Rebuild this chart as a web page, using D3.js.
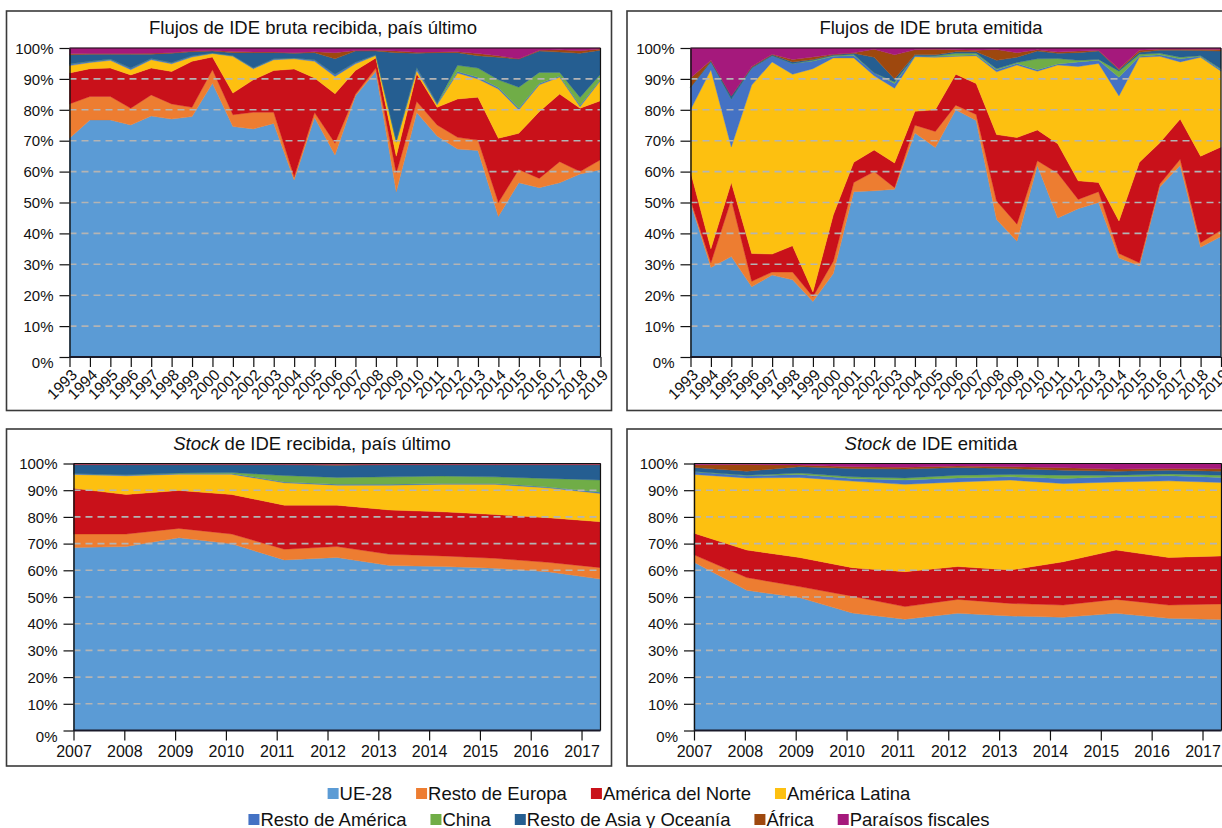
<!DOCTYPE html>
<html>
<head>
<meta charset="utf-8">
<script src="https://cdn.jsdelivr.net/npm/d3@7"></script>
<style>
  html, body { margin: 0; padding: 0; background: #fff; overflow: hidden; }
  svg { display: block; font-family: "Liberation Sans", Arial, Helvetica, sans-serif; }
</style>
</head>
<body>
<svg id="chart" width="1222" height="828"></svg>
<script>
// ---------------- DATA ----------------
const seriesNames = ["UE-28", "Resto de Europa", "América del Norte", "América Latina",
  "Resto de América", "China", "Resto de Asia y Oceanía", "África", "Paraísos fiscales"];
const seriesColors = ["#5b9bd5", "#ed7d31", "#c9111a", "#fdc010",
  "#4472c4", "#70ad47", "#255e91", "#9e480e", "#a5197c"];

const yearsFlows = [1993, 1994, 1995, 1996, 1997, 1998, 1999, 2000, 2001, 2002, 2003, 2004, 2005,
  2006, 2007, 2008, 2009, 2010, 2011, 2012, 2013, 2014, 2015, 2016, 2017, 2018, 2019];
const yearsStock = [2007, 2008, 2009, 2010, 2011, 2012, 2013, 2014, 2015, 2016, 2017];
const yTickValues = [0, 0.1, 0.2, 0.3, 0.4, 0.5, 0.6, 0.7, 0.8, 0.9, 1];

// Flujos de IDE bruta recibida, país último (% share)
const recFlowUE  = [70.8, 76.7, 76.7, 75.1, 78.0, 77.0, 77.8, 88.6, 74.6, 73.8, 75.6, 57.3, 77.5, 65.4, 84.5, 92.4, 53.5, 79.1, 71.5, 67.3, 66.8, 45.5, 56.4, 54.8, 56.4, 59.2, 60.0];
const recFlowRE  = [11.1, 7.6, 7.6, 5.4, 6.8, 4.9, 3.0, 4.4, 3.8, 5.4, 3.6, 1.0, 1.6, 3.8, 0.5, 1.1, 6.0, 3.6, 3.6, 3.8, 3.4, 4.5, 4.3, 3.0, 6.8, 0.8, 3.2];
const recFlowAN  = [10.0, 9.0, 9.2, 10.8, 8.7, 10.5, 14.9, 4.1, 7.0, 10.5, 13.5, 34.9, 11.2, 16.0, 7.7, 3.3, 5.5, 9.0, 5.7, 12.4, 13.9, 20.8, 11.7, 21.6, 21.9, 20.5, 18.9];
const recFlowAL  = [2.4, 2.0, 2.5, 1.7, 2.7, 2.5, 1.4, 1.1, 11.9, 3.6, 3.5, 3.3, 5.4, 5.6, 2.2, 0.8, 4.5, 1.0, 0.8, 8.4, 5.9, 15.9, 7.6, 8.7, 5.5, 0.5, 6.5];
const recFlowRA  = [0.6, 0.4, 0.4, 0.5, 0.4, 0.4, 0.4, 0.2, 0.3, 0.3, 0.3, 0.3, 0.5, 0.7, 0.5, 0.2, 0.5, 1.0, 0.5, 0.5, 0.5, 0.5, 0.5, 0.4, 0.3, 0.5, 0.3];
const recFlowCH  = [0, 0, 0, 0, 0, 0, 0, 0, 0, 0, 0, 0, 0, 0, 0, 0, 0, 0, 0, 2.0, 3.0, 2.5, 6.8, 3.6, 1.2, 2.5, 1.7];
const recFlowRAO = [2.9, 2.3, 1.6, 4.5, 1.4, 3.0, 1.3, 0.6, 0.9, 4.9, 2.0, 1.5, 2.3, 5.0, 3.6, 1.2, 28.5, 4.6, 16.4, 4.1, 4.0, 7.3, 9.1, 6.9, 6.6, 14.3, 7.7];
const recFlowAF  = [0.3, 0.2, 0.2, 0.2, 0.3, 0.2, 0.2, 0.2, 0.4, 0.2, 0.2, 0.2, 0.3, 2.0, 0.2, 0.3, 0.5, 0.3, 0.2, 0.3, 0.7, 0.5, 0.1, 0.3, 0.7, 0.8, 0.4];
const recFlowPF  = [1.9, 1.8, 1.8, 1.8, 1.7, 1.5, 1.0, 0.8, 1.1, 1.3, 1.3, 1.5, 1.2, 1.5, 0.8, 0.7, 1.0, 1.4, 1.3, 1.2, 1.8, 2.5, 3.5, 0.7, 0.6, 0.9, 0.3];

// Flujos de IDE bruta emitida (% share)
const emiFlowUE  = [50.0, 29.0, 32.5, 22.7, 26.5, 25.0, 18.0, 27.0, 53.5, 53.8, 54.3, 72.5, 67.8, 80.0, 76.5, 44.5, 37.5, 62.0, 45.0, 48.0, 50.0, 32.0, 29.5, 55.0, 62.0, 35.5, 39.0];
const emiFlowRE  = [0.8, 1.5, 18.5, 1.8, 1.0, 2.5, 1.5, 4.0, 3.0, 6.2, 0.5, 2.5, 5.2, 1.5, 2.0, 6.0, 5.5, 1.5, 14.5, 3.0, 3.5, 1.5, 1.0, 1.0, 2.0, 1.5, 2.0];
const emiFlowAN  = [9.2, 4.5, 5.5, 9.0, 5.8, 8.5, 1.5, 15.0, 6.5, 7.0, 8.0, 4.5, 7.0, 10.0, 10.0, 21.5, 28.0, 10.0, 9.5, 6.0, 3.0, 10.5, 32.5, 13.3, 13.0, 28.0, 27.0];
const emiFlowAL  = [20.0, 58.0, 11.5, 54.5, 62.2, 55.5, 72.3, 50.8, 33.8, 24.0, 24.2, 17.7, 17.0, 5.8, 9.0, 20.3, 23.5, 19.0, 25.5, 37.0, 38.5, 40.5, 34.0, 28.0, 18.5, 32.0, 24.5];
const emiFlowRA  = [7.3, 2.5, 15.5, 5.5, 2.0, 3.5, 2.5, 0.5, 0.8, 1.0, 1.5, 0.4, 0.3, 0.2, 0.3, 0.7, 0.5, 0.5, 0.3, 1.5, 1.0, 6.0, 0.3, 0.5, 1.0, 0.3, 0.5];
const emiFlowCH  = [0, 0, 0, 0, 0, 0, 0.2, 0.3, 0.3, 0, 0.5, 0, 0.2, 0.8, 0.5, 0.3, 0.3, 3.5, 1.8, 0.5, 0.3, 2.0, 0.7, 0.5, 0.5, 0.2, 0.2];
const emiFlowRAO = [0, 0.3, 1.0, 0.3, 0.3, 0.5, 0.3, 0.2, 0.4, 5.0, 1.0, 0.3, 0.3, 0.5, 0.5, 2.7, 1.7, 2.5, 1.7, 2.5, 2.7, 0.5, 0.6, 1.0, 2.3, 1.7, 5.8];
const emiFlowAF  = [3.0, 0.2, 0, 0.2, 0.2, 0.8, 0.8, 0.2, 0.2, 2.6, 7.8, 1.5, 1.8, 0.6, 0.5, 3.5, 1.5, 0.4, 0.4, 0.5, 0.2, 0.3, 0.7, 0.3, 0.3, 0.4, 0.5];
const emiFlowPF  = [9.7, 4.0, 15.5, 6.0, 2.0, 3.7, 2.9, 2.0, 1.5, 0.4, 2.2, 0.6, 0.4, 0.6, 0.7, 0.5, 1.5, 0.6, 1.3, 1.0, 0.8, 6.7, 0.7, 0.4, 0.4, 0.4, 0.5];

// Stock de IDE recibida, país último (% share)
const recStockUE  = [68.5, 68.9, 72.2, 69.9, 63.9, 64.8, 61.8, 61.4, 60.8, 59.5, 56.7];
const recStockRE  = [5.1, 4.7, 3.5, 3.7, 4.0, 4.1, 4.2, 4.0, 3.7, 3.5, 4.3];
const recStockAN  = [17.1, 14.8, 14.2, 14.8, 16.5, 15.5, 16.6, 16.5, 16.4, 16.7, 17.2];
const recStockAL  = [5.2, 7.0, 6.1, 7.6, 8.4, 7.5, 9.3, 10.3, 11.3, 11.2, 10.6];
const recStockRA  = [0.4, 0.4, 0.3, 0.3, 0.3, 0.3, 0.3, 0.3, 0.3, 0.3, 0.4];
const recStockCH  = [0, 0, 0.1, 0.3, 2.4, 2.6, 2.8, 2.8, 2.5, 3.2, 4.6];
const recStockRAO = [3.2, 3.7, 3.1, 2.9, 4.0, 4.5, 4.5, 4.2, 4.5, 5.1, 5.7];
const recStockAF  = [0.2, 0.2, 0.2, 0.2, 0.2, 0.4, 0.2, 0.2, 0.2, 0.2, 0.2];
const recStockPF  = [0.3, 0.3, 0.3, 0.3, 0.3, 0.3, 0.3, 0.3, 0.3, 0.3, 0.3];

// Stock de IDE emitida (% share)
const emiStockUE  = [63.0, 52.5, 49.8, 44.0, 41.7, 43.9, 42.9, 42.4, 43.9, 42.0, 41.6];
const emiStockRE  = [2.8, 4.8, 4.1, 6.3, 4.7, 5.2, 4.7, 4.6, 5.2, 5.0, 5.8];
const emiStockAN  = [8.1, 10.3, 10.9, 10.7, 13.1, 12.3, 12.5, 16.2, 18.5, 17.8, 18.0];
const emiStockAL  = [22.0, 27.0, 30.0, 32.4, 32.7, 31.7, 33.7, 29.3, 25.5, 28.7, 27.5];
const emiStockRA  = [1.0, 0.8, 1.1, 1.0, 1.6, 1.5, 1.2, 1.9, 1.9, 1.9, 1.9];
const emiStockCH  = [0.1, 0.2, 0.5, 0.6, 0.8, 1.0, 0.9, 1.2, 0.6, 0.7, 0.8];
const emiStockRAO = [1.5, 1.5, 2.4, 3.1, 3.3, 2.9, 2.2, 1.9, 1.5, 1.4, 1.5];
const emiStockAF  = [1.0, 2.5, 0.6, 0.7, 0.7, 0.6, 0.7, 0.9, 0.8, 0.6, 0.9];
const emiStockPF  = [0.5, 0.4, 0.6, 1.2, 1.4, 0.9, 1.2, 1.6, 2.1, 1.9, 2.0];

// ---------------- CHART ----------------
const svg = d3.select("#chart");
const FONT = '"Liberation Sans", Arial, Helvetica, sans-serif';

const panels = [
  { title: [{t: "Flujos de IDE bruta recibida, país último"}], years: yearsFlows, rotate: true,
    values: [recFlowUE, recFlowRE, recFlowAN, recFlowAL, recFlowRA, recFlowCH, recFlowRAO, recFlowAF, recFlowPF],
    box: [6.5, 11, 605, 399.5], titleX: 313, titleY: 34, plot: {L: 69.5, R: 600.5, T: 48, B: 357} },
  { title: [{t: "Flujos de IDE bruta emitida"}], years: yearsFlows, rotate: true,
    values: [emiFlowUE, emiFlowRE, emiFlowAN, emiFlowAL, emiFlowRA, emiFlowCH, emiFlowRAO, emiFlowAF, emiFlowPF],
    box: [627, 11, 620, 399.5], titleX: 931, titleY: 34, plot: {L: 690.5, R: 1221, T: 48, B: 357} },
  { title: [{t: "Stock", i: true}, {t: " de IDE recibida, país último"}], years: yearsStock, rotate: false,
    values: [recStockUE, recStockRE, recStockAN, recStockAL, recStockRA, recStockCH, recStockRAO, recStockAF, recStockPF],
    box: [6.5, 429, 605, 337], titleX: 312, titleY: 450, plot: {L: 73.5, R: 600.5, T: 463.5, B: 730.5} },
  { title: [{t: "Stock", i: true}, {t: " de IDE emitida"}], years: yearsStock, rotate: false,
    values: [emiStockUE, emiStockRE, emiStockAN, emiStockAL, emiStockRA, emiStockCH, emiStockRAO, emiStockAF, emiStockPF],
    box: [627, 429, 620, 337], titleX: 931, titleY: 450, plot: {L: 694, R: 1221.5, T: 463.5, B: 730.5} }
];

panels.forEach(p => {
  const g = svg.append("g");
  const {L, R, T, B} = p.plot;

  // panel frame
  g.append("rect").attr("x", p.box[0]).attr("y", p.box[1])
    .attr("width", p.box[2]).attr("height", p.box[3])
    .attr("fill", "none").attr("stroke", "#3a3a3a").attr("stroke-width", 1.6);

  // title
  const tt = g.append("text").attr("x", p.titleX).attr("y", p.titleY)
    .attr("text-anchor", "middle").attr("font-size", 18.5).attr("fill", "#111");
  p.title.forEach(s => tt.append("tspan").text(s.t).attr("font-style", s.i ? "italic" : "normal"));

  // data rows
  const rows = p.years.map((yr, i) => {
    const o = {year: yr, idx: i};
    seriesNames.forEach((k, j) => { o[k] = p.values[j][i]; });
    return o;
  });
  const layers = d3.stack().keys(seriesNames).offset(d3.stackOffsetExpand)(rows);

  const xData = d3.scaleLinear().domain([0, p.years.length - 1]).range([L, R]);
  const y = d3.scaleLinear().domain([0, 1]).range([B, T]);

  const area = d3.area()
    .x(d => xData(d.data.idx))
    .y0(d => y(d[0]))
    .y1(d => y(d[1]));

  g.append("g").selectAll("path").data(layers).join("path")
    .attr("d", area)
    .attr("fill", (d, i) => seriesColors[i])
    .attr("stroke", (d, i) => seriesColors[i])
    .attr("stroke-width", 0.4);

  // dashed gridlines
  g.append("g").selectAll("line").data(yTickValues.filter(v => v > 0 && v < 1)).join("line")
    .attr("x1", L).attr("x2", R)
    .attr("y1", d => y(d)).attr("y2", d => y(d))
    .attr("stroke", "#b4b4b4").attr("stroke-width", 1.6).attr("stroke-dasharray", "7,5");

  // plot frame (top & right)
  g.append("line").attr("x1", L).attr("x2", R).attr("y1", T).attr("y2", T)
    .attr("stroke", "#111").attr("stroke-width", 1.2);
  g.append("line").attr("x1", R).attr("x2", R).attr("y1", T).attr("y2", B)
    .attr("stroke", "#111").attr("stroke-width", 1.2);

  // y axis
  const yAxis = g.append("g").attr("transform", `translate(${L},0)`)
    .call(d3.axisLeft(y).tickValues(yTickValues).tickFormat(d3.format(".0%")).tickSize(10).tickSizeOuter(0).tickPadding(6));
  yAxis.select(".domain").attr("stroke", "#111").attr("stroke-width", 1.4);
  yAxis.selectAll(".tick line").attr("stroke", "#111").attr("stroke-width", 1.2);
  yAxis.selectAll(".tick text").attr("font-family", FONT).attr("font-size", 15).attr("fill", "#111")
    .attr("dy", d => d === 0 ? "0.7em" : "0.35em");

  // x axis
  let xAxisScale;
  if (p.rotate) {
    xAxisScale = d3.scaleLinear().domain([p.years[0], p.years[p.years.length - 1]]).range([L, R]);
  } else {
    const step = (R - L) / (p.years.length - 1) * 0.964;
    xAxisScale = d3.scaleLinear().domain([p.years[0], p.years[p.years.length - 1]])
      .range([L, L + step * (p.years.length - 1)]);
  }
  const xAxis = g.append("g").attr("transform", `translate(0,${B})`)
    .call(d3.axisBottom(xAxisScale).tickValues(p.years).tickFormat(d3.format("d")).tickSize(10).tickSizeOuter(0).tickPadding(5));
  xAxis.select(".domain").attr("d", `M${L},0H${R}`).attr("stroke", "#1a1a2a").attr("stroke-width", 2.2);
  xAxis.selectAll(".tick line").attr("stroke", "#111").attr("stroke-width", 1.2);
  const xt = xAxis.selectAll(".tick text").attr("font-family", FONT).attr("fill", "#111");
  if (p.rotate) {
    xt.attr("font-size", 15.5).attr("text-anchor", "end")
      .attr("x", 0).attr("y", 0).attr("dy", 0)
      .attr("transform", "translate(8,19) rotate(-45)");
  } else {
    xt.attr("font-size", 16).attr("dy", "0.71em");
  }
});

// ---------------- LEGEND ----------------
const legendRows = [
  {y: 794, items: [0, 1, 2, 3]},
  {y: 820, items: [4, 5, 6, 7, 8]}
];
const legend = svg.append("g");
legendRows.forEach(r => {
  const grp = legend.append("g");
  let x = 0;
  r.items.forEach(idx => {
    grp.append("rect").attr("x", x).attr("y", r.y - 6).attr("width", 11).attr("height", 11)
      .attr("fill", seriesColors[idx]);
    const t = grp.append("text").attr("x", x + 12).attr("y", r.y).attr("dy", "0.35em")
      .attr("font-size", 18.5).attr("fill", "#111").text(seriesNames[idx]);
    x += 12 + t.node().getComputedTextLength() + 24;
  });
  const total = x - 24;
  grp.attr("transform", `translate(${619 - total / 2},0)`);
});
</script>
</body>
</html>
